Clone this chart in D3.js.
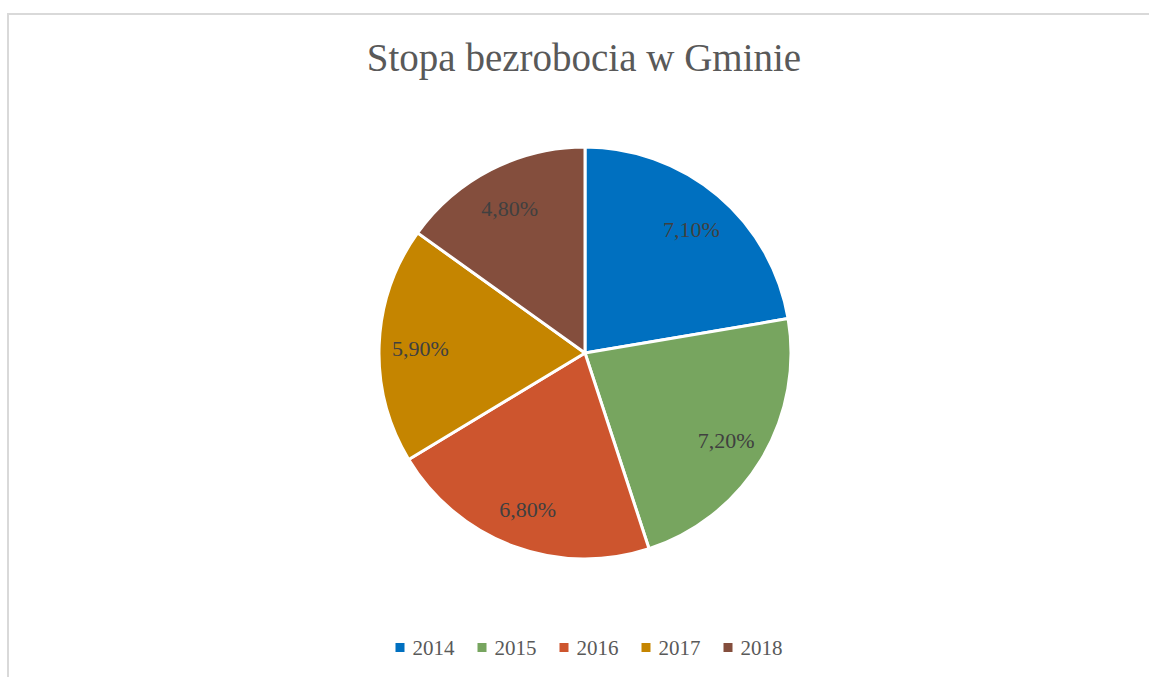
<!DOCTYPE html>
<html>
<head>
<meta charset="utf-8">
<script src="https://cdn.jsdelivr.net/npm/d3@7"></script>
<style>
  html, body { margin: 0; padding: 0; background: #fff; }
  svg { display: block; font-family: "Liberation Serif", "DejaVu Serif", serif; }
</style>
</head>
<body>
<svg id="svg1" width="1149" height="677"></svg>
<script>
// dane wykresu
var years = ["2014", "2015", "2016", "2017", "2018"];
var rates = [7.1, 7.2, 6.8, 5.9, 4.8];
var colors = ["#0070c0", "#77a55f", "#cd552e", "#c58500", "#844e3d"];
var title = "Stopa bezrobocia w Gminie";

var W = 1149, H = 677;
var cx = 585, cy = 353, R = 206;

var svg = d3.select("#svg1");

// ramka wykresu
svg.append("rect")
    .attr("x", 8)
    .attr("y", 14)
    .attr("width", W + 20)
    .attr("height", H + 20)
    .attr("fill", "none")
    .attr("stroke", "#d9d9d9")
    .attr("stroke-width", 2);

svg.append("text")
    .attr("x", 584)
    .attr("y", 71)
    .attr("text-anchor", "middle")
    .attr("font-size", 39)
    .attr("fill", "#595959")
    .text(title);

var data = years.map(function(y, i){ return {year: y, value: rates[i]}; });

var color = d3.scaleOrdinal().domain(years).range(colors);

var pie = d3.pie()
    .sort(null)
    .value(function(d){ return d.value; });

var arc = d3.arc().innerRadius(0).outerRadius(R);
var labelArc = d3.arc().innerRadius(R * 0.8).outerRadius(R * 0.8);

var g = svg.append("g").attr("transform", "translate(" + cx + "," + cy + ")");

var arcs = pie(data);

g.selectAll("path")
    .data(arcs)
    .enter().append("path")
    .attr("d", arc)
    .attr("fill", function(d){ return color(d.data.year); })
    .attr("stroke", "#fff")
    .attr("stroke-width", 3)
    .attr("stroke-linejoin", "round");

g.selectAll("text.lbl")
    .data(arcs)
    .enter().append("text")
    .attr("class", "lbl")
    .attr("transform", function(d){ return "translate(" + labelArc.centroid(d) + ")"; })
    .attr("text-anchor", "middle")
    .attr("dy", "0.45em")
    .attr("font-size", 22)
    .attr("fill", "#404040")
    .text(function(d){ return d.data.value.toFixed(2).replace(".", ",") + "%"; });

// legenda
var legend = svg.append("g");
var items = legend.selectAll("g")
    .data(years)
    .enter().append("g");

items.append("rect")
    .attr("x", 0)
    .attr("y", -12)
    .attr("width", 9)
    .attr("height", 9)
    .attr("fill", function(d){ return color(d); });

items.append("text")
    .attr("x", 17)
    .attr("y", 0)
    .attr("font-size", 21)
    .attr("fill", "#595959")
    .text(function(d){ return d; });

var xpos = 0;
items.each(function(){
    var w = d3.select(this).select("text").node().getComputedTextLength();
    d3.select(this).attr("transform", "translate(" + xpos + ",0)");
    xpos += 17 + w + 23;
});
var total = xpos - 23;
legend.attr("transform", "translate(" + (589 - total / 2) + ",655)");
</script>
</body>
</html>
